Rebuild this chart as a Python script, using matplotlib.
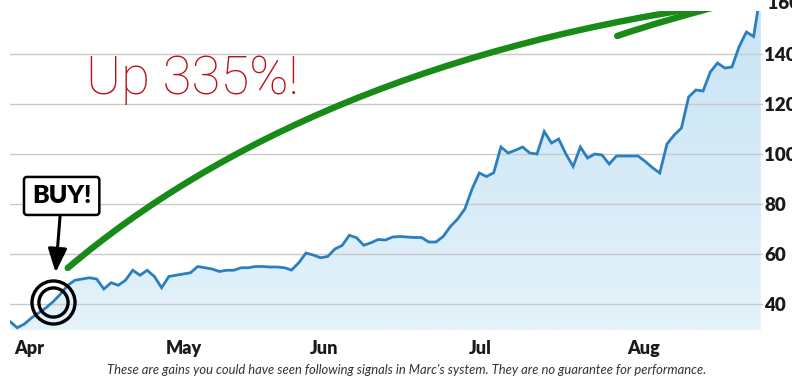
import matplotlib
matplotlib.use("Agg")
import matplotlib.pyplot as plt
import numpy as np
from matplotlib.path import Path
from matplotlib.patches import PathPatch
from matplotlib.colors import LinearSegmentedColormap
import matplotlib.transforms as mtransforms

# daily closes, one value per trading day starting in April
prices = [33, 30.5, 32, 34.5, 36.5, 38.5, 41, 44, 47.5, 49.5,
          50, 50.5, 50, 46, 48.5, 47.5, 49.5, 53.5, 51.5, 53.5,
          51, 46.5, 51, 51.5, 52, 52.5, 55, 54.5, 54, 53,
          53.5, 53.5, 54.5, 54.5, 55, 55, 54.8, 54.8, 54.5, 53.6,
          56.5, 60.4, 59.6, 58.5, 59, 62, 63.4, 67.5, 66.5, 63.5,
          64.5, 65.8, 65.6, 66.8, 67, 66.8, 66.6, 66.6, 64.8, 64.8,
          67, 71, 74, 78, 86, 92.4, 91, 92.5, 102.8, 100.4,
          101.5, 102.8, 100.4, 100, 109, 104.4, 106, 100, 95, 102.8,
          98.4, 100, 99.6, 96, 99.2, 99.2, 99.2, 99.2, 97, 94.5,
          92.4, 104, 107.6, 110.4, 122.8, 125.6, 125.2, 132.8, 136.4, 134.4,
          134.8, 143, 148.8, 147, 165]
month_starts = [0, 21, 41, 63, 85]
month_labels = ["Apr", "May", "Jun", "Jul", "Aug"]
y_ticks = [40, 60, 80, 100, 120, 140]
buy_day = 6

# hand-drawn green swoosh (cubic) and the short stroke next to it (quadratic)
swoosh_pts = [(8.0, 54.4), (28.8, 105.4), (59.6, 145.2), (101.1, 160.8)]
stroke_pts = [(84.1, 147.2), (89.6, 152.8), (103.9, 163.6)]

days = np.arange(len(prices))
vals = np.array(prices, dtype=float)

fig = plt.figure(figsize=(7.92, 3.78), dpi=100)
ax = fig.add_axes([10 / 792, 48 / 378, 753 / 792, 319 / 378])

x_lo, x_hi = 0, 104.3
y_lo, y_hi = 29.6, 157.2

# gradient area under the line
fill = ax.fill_between(days, vals, y_lo - 5, color="none", lw=0)
blues = LinearSegmentedColormap.from_list("area", ["#e4f2fa", "#c8e4f5"])
grad = np.linspace(0, 1, 256).reshape(-1, 1)
im = ax.imshow(grad, extent=[x_lo, x_hi, y_lo, y_hi], origin="lower",
               aspect="auto", cmap=blues, zorder=1)
im.set_clip_path(fill.get_paths()[0], transform=ax.transData)

for t in y_ticks:
    ax.axhline(t, color="#c9c9c9", lw=1.0, zorder=2)

ax.plot(days, vals, color="#2a7fc1", lw=2.0, zorder=3, solid_joinstyle="miter")

# green swoosh
sw = Path(swoosh_pts, [Path.MOVETO, Path.CURVE4, Path.CURVE4, Path.CURVE4])
ax.add_patch(PathPatch(sw, fc="none", ec="#178a17", lw=4.6, capstyle="round", zorder=4))
st = Path(stroke_pts, [Path.MOVETO, Path.CURVE3, Path.CURVE3])
ax.add_patch(PathPatch(st, fc="none", ec="#178a17", lw=4.6, capstyle="round", zorder=4))

# double ring around the buy point
bx, by = days[buy_day], vals[buy_day]
ax.plot([bx], [by], marker="o", ms=31, mfc="none", mec="black", mew=2.4, zorder=5)
ax.plot([bx], [by], marker="o", ms=21, mfc="none", mec="black", mew=2.4, zorder=5)

ax.annotate("BUY!", xy=(bx, by), xytext=(6, 76), textcoords="offset points",
            ha="center", va="center", fontsize=18, fontweight="heavy",
            family="Lato", color="black", zorder=6,
            bbox=dict(boxstyle="round,pad=0.32,rounding_size=0.12", fc="white",
                      ec="black", lw=1.8),
            arrowprops=dict(arrowstyle="-|>,head_length=0.8,head_width=0.32",
                            mutation_scale=18, color="black", lw=2.2,
                            shrinkA=0, shrinkB=21))

ax.text(25.3, 130, "Up 335%!", color="#b81218", fontsize=38, family="Roboto",
        fontweight="light", ha="center", va="center", zorder=6)

ax.set_xlim(x_lo, x_hi)
ax.set_ylim(y_lo, y_hi)
for s in ax.spines.values():
    s.set_visible(False)

ax.yaxis.tick_right()
ax.set_yticks(y_ticks)
ax.set_yticklabels([str(t) for t in y_ticks])
ax.tick_params(axis="y", length=0, pad=1, labelsize=13.5, labelcolor="#1a1a1a")
ax.set_xticks(month_starts)
ax.set_xticklabels(month_labels)
ax.tick_params(axis="x", length=0, pad=7, labelsize=13, labelcolor="#1a1a1a")
for lab in ax.get_xticklabels() + ax.get_yticklabels():
    lab.set_fontfamily("Lato")
    lab.set_fontweight("heavy")
shift = mtransforms.ScaledTranslation(4 / 100, 0, fig.dpi_scale_trans)
for lab in ax.get_xticklabels():
    lab.set_horizontalalignment("left")
    lab.set_transform(lab.get_transform() + shift)

# top label sits above the visible range
trans = mtransforms.blended_transform_factory(ax.transAxes, ax.transData)
ax.text(1.0, 160, " 160", transform=trans, ha="left", va="center", fontsize=13.5,
        family="Lato", fontweight="heavy", color="#1a1a1a", clip_on=False)

fig.text(0.513, 0.004, "These are gains you could have seen following signals in "
         "Marc's system. They are no guarantee for performance.",
         ha="center", va="bottom", fontsize=9.4, style="italic", family="Lato",
         color="#333333")

fig.savefig("out.png", dpi=100)
